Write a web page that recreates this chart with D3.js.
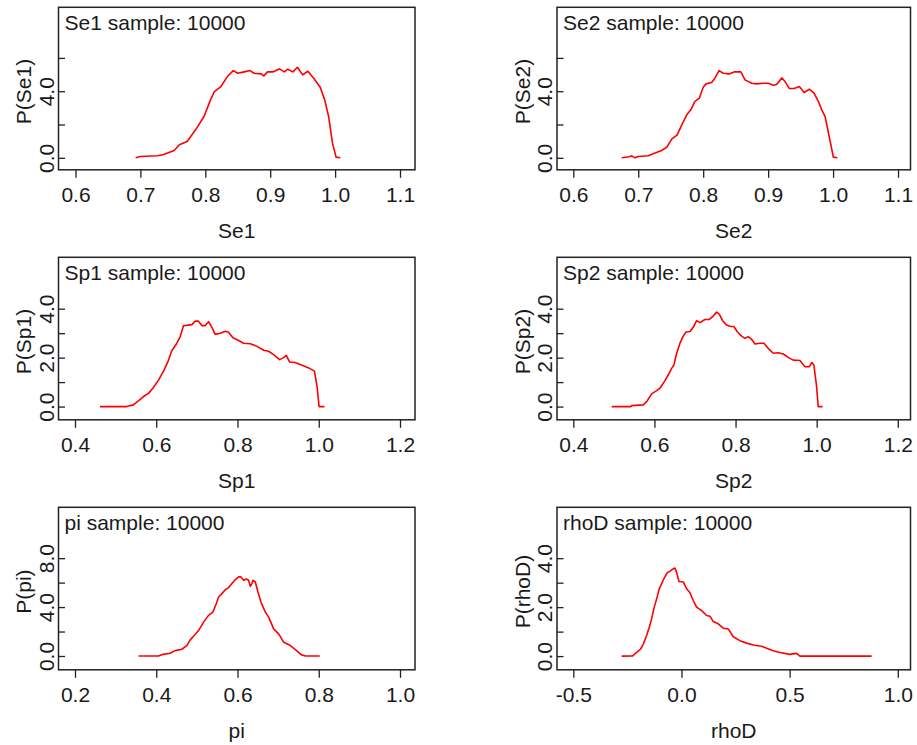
<!DOCTYPE html>
<html>
<head>
<meta charset="utf-8">
<script src="https://cdn.jsdelivr.net/npm/d3@7"></script>
<style>
  html, body { margin: 0; padding: 0; background: #ffffff; }
  svg { display: block; }
  text { font-family: "Liberation Sans", Arial, sans-serif; fill: #1a1a1a; }
</style>
</head>
<body>
<svg id="chart" width="917" height="745"></svg>
<script>
// ---------------- data ----------------
const panelNames = ["Se1", "Se2", "Sp1", "Sp2", "pi", "rhoD"];
const sampleSize = 10000;

const se1X = [0.6927,0.700,0.726,0.736,0.752,0.760,0.772,0.785,0.798,0.808,0.814,0.824,0.834,0.843,0.850,0.860,0.869,0.875,0.886,0.890,0.896,0.904,0.914,0.922,0.927,0.935,0.942,0.950,0.958,0.967,0.977,0.984,0.990,0.996,1.0015,1.008];
const se1Y = [0,0.08,0.12,0.20,0.44,0.78,0.98,1.68,2.48,3.48,3.98,4.28,4.88,5.24,5.08,5.16,5.24,5.08,5.04,4.92,5.16,5.16,5.34,5.16,5.32,5.16,5.44,4.98,5.20,4.78,4.24,3.48,2.48,0.88,0.04,0];

const se2X = [0.6745,0.686,0.690,0.695,0.700,0.7155,0.723,0.736,0.744,0.7515,0.760,0.767,0.7747,0.781,0.787,0.794,0.800,0.8044,0.813,0.818,0.8244,0.831,0.840,0.8475,0.858,0.8644,0.8747,0.882,0.8926,0.900,0.908,0.913,0.921,0.926,0.9327,0.940,0.948,0.9553,0.9635,0.9707,0.9774,0.9826,0.9877,0.994,1.0004,1.0066];
const se2Y = [0,0.06,0.12,0,0.08,0.12,0.24,0.44,0.64,1.12,1.38,1.98,2.58,2.88,3.38,3.58,4.24,4.44,4.52,4.78,5.24,5.08,5.04,5.16,5.16,4.68,4.48,4.44,4.48,4.48,4.36,4.40,4.80,4.58,4.16,4.16,4.28,3.92,4.12,3.88,3.38,2.88,2.48,1.28,0.04,0];

const sp1X = [0.4616,0.5274,0.5356,0.5438,0.556,0.5685,0.581,0.593,0.6055,0.618,0.630,0.638,0.6507,0.659,0.667,0.6753,0.6877,0.6959,0.704,0.7123,0.7205,0.7288,0.737,0.7452,0.7575,0.770,0.778,0.7888,0.8027,0.815,0.8315,0.848,0.8644,0.8767,0.889,0.9038,0.9137,0.920,0.9285,0.942,0.9589,0.9753,0.9893,0.996,1.0008,1.014];
const sp1Y = [0,0,0.04,0.07,0.23,0.41,0.54,0.78,1.08,1.45,1.89,2.27,2.59,2.86,3.30,3.32,3.35,3.49,3.49,3.31,3.31,3.47,3.24,2.95,3.00,3.08,3.04,2.81,2.70,2.59,2.57,2.46,2.30,2.26,2.12,1.92,2.00,2.09,1.82,1.80,1.69,1.58,1.45,0.81,0,0];

const sp2X = [0.4946,0.5414,0.5439,0.5725,0.581,0.593,0.6055,0.6137,0.626,0.634,0.6425,0.648,0.6548,0.663,0.671,0.6777,0.6876,0.6957,0.704,0.7122,0.7245,0.7351,0.745,0.7533,0.7598,0.768,0.778,0.7878,0.796,0.8042,0.815,0.8231,0.8313,0.8396,0.8478,0.860,0.870,0.8805,0.8929,0.9052,0.9175,0.9298,0.9421,0.9586,0.971,0.9816,0.9882,0.9931,0.9998,1.0038,1.0146];
const sp2Y = [0,0,0.04,0.07,0.20,0.52,0.65,0.75,1.06,1.29,1.56,1.70,2.18,2.59,2.88,3.05,3.07,3.24,3.51,3.43,3.56,3.56,3.70,3.86,3.78,3.51,3.33,3.27,3.27,3.06,2.88,2.79,2.86,2.75,2.56,2.59,2.59,2.38,2.18,2.20,2.15,2.01,1.90,1.88,1.63,1.63,1.80,1.70,0.82,0,0];

const piX = [0.3562,0.4055,0.4137,0.4342,0.4466,0.463,0.4753,0.4836,0.4934,0.5041,0.5164,0.5288,0.5394,0.5477,0.5534,0.5616,0.5699,0.578,0.5863,0.5945,0.6027,0.6085,0.615,0.6216,0.6274,0.6315,0.6356,0.638,0.6438,0.6504,0.6578,0.6685,0.6767,0.689,0.7014,0.7137,0.7301,0.7425,0.7564,0.7671,0.8024];
const piY = [0,0,0.11,0.22,0.44,0.55,0.85,1.32,1.67,2.08,2.77,3.32,3.59,4.27,4.82,5.10,5.42,5.59,5.92,6.25,6.47,6.47,6.19,6.30,6.19,5.70,5.92,6.19,6.05,5.23,4.41,3.59,3.18,2.22,1.81,1.12,0.85,0.52,0.11,0,0];

const rhoDX = [-0.2764,-0.2256,-0.207,-0.1886,-0.1765,-0.161,-0.1488,-0.138,-0.1257,-0.1146,-0.1027,-0.0916,-0.0795,-0.0656,-0.053,-0.0407,-0.030,-0.022,-0.0115,0.0085,0.024,0.0393,0.0545,0.0702,0.0933,0.1164,0.1317,0.147,0.170,0.1931,0.2162,0.2393,0.270,0.301,0.3318,0.3704,0.3937,0.4242,0.4552,0.5014,0.532,0.5476,0.879];
const rhoDY = [0,0.01,0.15,0.29,0.49,0.84,1.18,1.52,2.00,2.34,2.75,2.96,3.19,3.41,3.47,3.55,3.60,3.41,3.05,3.03,2.75,2.59,2.27,2.00,1.86,1.66,1.63,1.41,1.32,1.14,1.11,0.79,0.63,0.53,0.45,0.40,0.32,0.22,0.15,0.07,0.11,0,0];

const seriesX = [se1X, se2X, sp1X, sp2X, piX, rhoDX];
const seriesY = [se1Y, se2Y, sp1Y, sp2Y, piY, rhoDY];

// axis ticks and labels
const xTicksSe = [0.6, 0.7, 0.8, 0.9, 1.0, 1.1];
const xTicksSp = [0.4, 0.6, 0.8, 1.0, 1.2];
const xTicksPi = [0.2, 0.4, 0.6, 0.8, 1.0];
const xTicksRho = [-0.5, 0.0, 0.5, 1.0];
const xTicks = [xTicksSe, xTicksSe, xTicksSp, xTicksSp, xTicksPi, xTicksRho];

const yTicksSe = [0, 2, 4, 6];
const yLabelsSe = ["0.0", "", "4.0", ""];
const yTicksSp = [0, 1, 2, 3, 4];
const yLabelsSp = ["0.0", "", "2.0", "", "4.0"];
const yTicksPi = [0, 2, 4, 6, 8];
const yLabelsPi = ["0.0", "", "4.0", "", "8.0"];
const yTicks = [yTicksSe, yTicksSe, yTicksSp, yTicksSp, yTicksPi, yTicksSp];
const yLabels = [yLabelsSe, yLabelsSe, yLabelsSp, yLabelsSp, yLabelsPi, yLabelsSp];

// axis ranges
const xDomains = [[0.5738, 1.1231], [0.5749, 1.1192], [0.3594, 1.2369], [0.3598, 1.2313], [0.1594, 1.0369], [-0.5753, 1.0587]];
const yDomains = [[-0.72, 9.04], [-0.72, 9.04], [-0.54, 6.10], [-0.54, 6.10], [-1.13, 12.16], [-0.56, 6.08]];

// ---------------- layout ----------------
const colLeft = [58.5, 557];
const colWidth = [356.5, 353.5];
const rowTop = [7.3, 257.3, 507.3];
const boxH = 162.5;
const fontSize = 21;

const svg = d3.select("#chart");
const fmt1 = d3.format(".1f");
const xFmt = d => fmt1(d).replace("\u2212", "-");

panelNames.forEach((name, i) => {
  const col = i % 2, row = Math.floor(i / 2);
  const L = colLeft[col], T = rowTop[row], W = colWidth[col], H = boxH;
  const x = d3.scaleLinear().domain(xDomains[i]).range([L, L + W]);
  const y = d3.scaleLinear().domain(yDomains[i]).range([T + H, T]);
  const g = svg.append("g");

  // curve
  const pts = seriesX[i].map((v, k) => [v, seriesY[i][k]]);
  g.append("path")
    .datum(pts)
    .attr("fill", "none")
    .attr("stroke", "#ff0000")
    .attr("stroke-width", 1.6)
    .attr("stroke-linejoin", "round")
    .attr("d", d3.line().x(d => x(d[0])).y(d => y(d[1])));

  // x axis (ticks outward)
  const xa = g.append("g")
    .attr("transform", `translate(0,${T + H})`)
    .call(d3.axisBottom(x).tickValues(xTicks[i]).tickSize(8).tickPadding(9)
      .tickFormat(xFmt));
  xa.select(".domain").remove();
  xa.selectAll("line").attr("stroke", "#222").attr("stroke-width", 1.3);
  xa.selectAll("text").attr("font-size", fontSize).attr("fill", "#1a1a1a")
    .attr("font-family", "'Liberation Sans', Arial, sans-serif");

  // y axis (ticks inward, rotated labels)
  const ya = g.append("g")
    .attr("transform", `translate(${L},0)`)
    .call(d3.axisLeft(y).tickValues(yTicks[i]).tickSize(-6.5)
      .tickFormat((d, k) => yLabels[i][k]));
  ya.select(".domain").remove();
  ya.selectAll("line").attr("stroke", "#222").attr("stroke-width", 1.3);
  ya.selectAll("text")
    .attr("font-size", fontSize).attr("fill", "#1a1a1a")
    .attr("font-family", "'Liberation Sans', Arial, sans-serif")
    .attr("x", null).attr("dy", null)
    .attr("text-anchor", "middle")
    .attr("transform", "translate(-5,0) rotate(-90)");

  // box
  g.append("rect")
    .attr("x", L).attr("y", T).attr("width", W).attr("height", H)
    .attr("fill", "none").attr("stroke", "#222").attr("stroke-width", 1.5);

  // title inside box
  g.append("text")
    .attr("x", L + 6).attr("y", T + 22.7)
    .attr("font-size", fontSize)
    .text(`${name} sample: ${sampleSize}`);

  // x label
  g.append("text")
    .attr("x", L + W / 2).attr("y", T + H + 68)
    .attr("text-anchor", "middle")
    .attr("font-size", fontSize)
    .text(name);

  // y label
  g.append("text")
    .attr("transform", `translate(${L - 27.5},${T + H / 2 + 3}) rotate(-90)`)
    .attr("text-anchor", "middle")
    .attr("font-size", fontSize)
    .text(`P(${name})`);
});
</script>
</body>
</html>
